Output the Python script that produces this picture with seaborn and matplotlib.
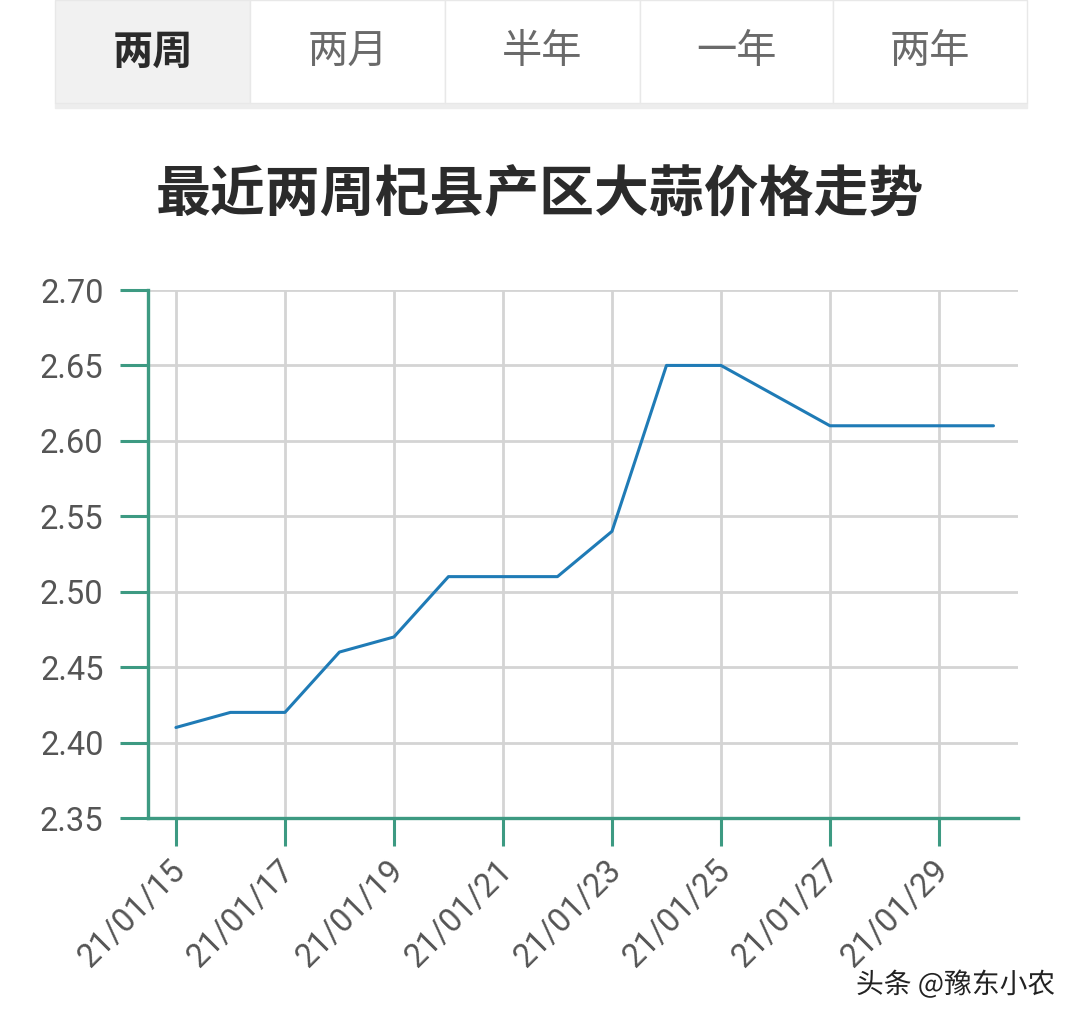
import pandas as pd
import matplotlib
matplotlib.use("Agg")
import matplotlib.pyplot as plt
import matplotlib.dates as mdates
import matplotlib.patheffects as pe
from matplotlib.patches import Rectangle
from matplotlib.transforms import ScaledTranslation
import seaborn as sns

# ------------------------------------------------------------
# Data: Qi county garlic price, last two weeks
# ------------------------------------------------------------
dates = pd.date_range("2021-01-15", "2021-01-30", freq="D")
prices = [2.41, 2.42, 2.42, 2.46, 2.47, 2.51, 2.51, 2.51,
          2.54, 2.65, 2.65, 2.63, 2.61, 2.61, 2.61, 2.61]
y_ticks = [2.35, 2.40, 2.45, 2.50, 2.55, 2.60, 2.65, 2.70]
tabs = ["两周", "两月", "半年", "一年", "两年"]
title = "最近两周杞县产区大蒜价格走势"
watermark = "头条 @豫东小农"

df = pd.DataFrame({"date": dates, "price": prices})

sns.set_theme(style="white")
plt.rcParams["font.family"] = ["Roboto", "Noto Sans CJK SC", "DejaVu Sans"]
cjk = ["Noto Sans CJK SC", "DejaVu Sans"]

teal = "#3d9a82"
grid = "#d4d4d4"
W, H = 1080, 1021

fig = plt.figure(figsize=(W / 100, H / 100), dpi=100)
fig.patch.set_facecolor("white")

# -- tab bar at the top --
tab_edges = [55, 250, 445, 640, 833, 1027]
tab_bot = 103
# faint shadow under the bar
fig.patches.append(Rectangle((tab_edges[0] / W, 1 - (tab_bot + 5) / H),
                             (tab_edges[-1] - tab_edges[0]) / W, 5 / H,
                             transform=fig.transFigure, color="#ededed", zorder=0))
for i, name in enumerate(tabs):
    x0, x1 = tab_edges[i], tab_edges[i + 1]
    fig.patches.append(Rectangle((x0 / W, 1 - tab_bot / H), (x1 - x0) / W, tab_bot / H,
                                 transform=fig.transFigure,
                                 facecolor="#f1f1f1" if i == 0 else "white",
                                 edgecolor="#e8e8e8", linewidth=1, zorder=1))
    fig.text((x0 + x1) / 2 / W, 1 - 52 / H, name, family=cjk,
             fontsize=29, ha="center", va="center",
             color="#2a2a2a" if i == 0 else "#6a6a6a",
             fontweight="bold" if i == 0 else "normal", zorder=2)

fig.text(540 / W, 1 - 195 / H, title, family=cjk, fontsize=39.5,
         fontweight="bold", color="#2b2b2b", ha="center", va="center")

# -- price line --
ax = fig.add_axes([148 / W, 1 - 818 / H, (1018 - 148) / W, (818 - 290) / H])
sns.lineplot(data=df, x="date", y="price", ax=ax, color="#1f7bb6", linewidth=2.2)

ax.set_xlim(dates[0] - pd.Timedelta(hours=12.3), dates[-1] + pd.Timedelta(hours=10.8))
ax.set_ylim(y_ticks[0], y_ticks[-1])
ax.set_yticks(y_ticks)
ax.set_yticklabels([f"{v:.2f}" for v in y_ticks])
ax.set_xticks(dates[::2])
ax.set_xticklabels([d.strftime("%y/%m/%d") for d in dates[::2]],
                   rotation=45, ha="right", rotation_mode="anchor")
ax.set_xlabel("")
ax.set_ylabel("")

ax.grid(True, color=grid, linewidth=2)
ax.set_axisbelow(True)
for side in ["top", "right"]:
    ax.spines[side].set_visible(False)
for side in ["left", "bottom"]:
    ax.spines[side].set_color(teal)
    ax.spines[side].set_linewidth(2.4)
ax.tick_params(axis="both", direction="out", length=20, width=2.2, color=teal,
               labelsize=23.5, labelcolor="#555555", bottom=True, left=True)
ax.tick_params(axis="y", pad=12)
ax.tick_params(axis="x", pad=6)
shift = ScaledTranslation(-7 / 100, 0, fig.dpi_scale_trans)
for lab in ax.get_xticklabels():
    lab.set_transform(lab.get_transform() + shift)

fig.text(1055 / W, 1 - 985 / H, watermark, family=cjk, fontsize=20,
         ha="right", va="center", color="#222222",
         path_effects=[pe.withStroke(linewidth=2, foreground="white")])

fig.savefig("out.png", dpi=100)
